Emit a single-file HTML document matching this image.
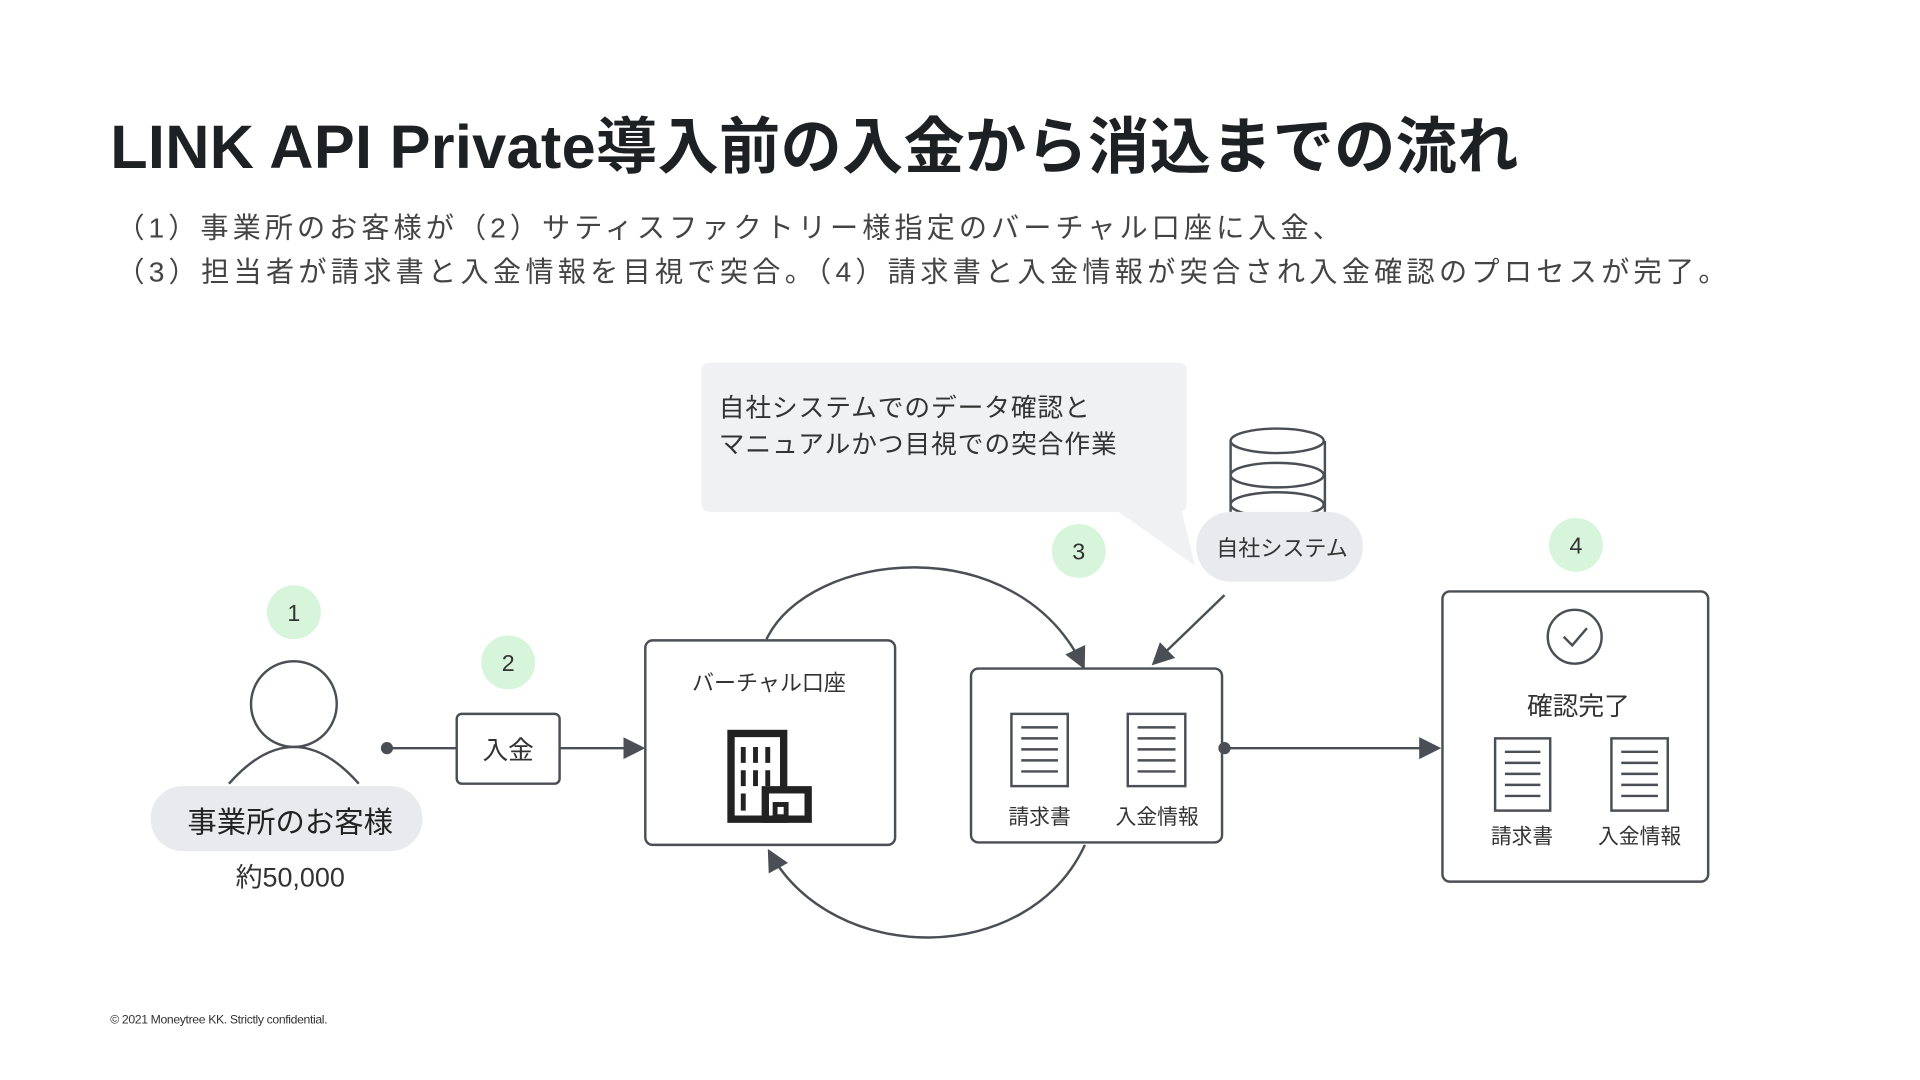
<!DOCTYPE html>
<html><head><meta charset="utf-8"><style>
html,body{margin:0;padding:0;background:#fff;}
svg{display:block;}
text{font-family:"Liberation Sans","Noto Sans CJK JP",sans-serif;}
</style></head><body>
<svg width="1920" height="1080" viewBox="0 0 1568 882" xmlns="http://www.w3.org/2000/svg">
<defs>
<marker id="ah2" markerWidth="18" markerHeight="18" refX="16" refY="9" orient="auto" markerUnits="userSpaceOnUse" viewBox="0 0 18 18">
<path d="M0,0 L18,9 L0,18 z" fill="#4a4f55"/></marker>
</defs>
<rect width="1568" height="882" fill="#fff"/>
<text x="90" y="137" font-size="50" font-weight="bold" fill="#1e2124" textLength="1150" lengthAdjust="spacing">LINK API Private導入前の入金から消込までの流れ</text>
<text x="95" y="194" font-size="23" fill="#444" textLength="1000" lengthAdjust="spacing">（1）事業所のお客様が（2）サティスファクトリー様指定のバーチャル口座に入金、</text>
<text x="95" y="230" font-size="23" fill="#444" textLength="1315" lengthAdjust="spacing">（3）担当者が請求書と入金情報を目視で突合。（4）請求書と入金情報が突合され入金確認のプロセスが完了。</text>

<!-- callout -->
<rect x="573" y="296" width="396" height="122" rx="6" fill="#f0f1f3"/>
<path d="M912,417 L965,417 L976,462 Z" fill="#f0f1f3"/>
<text x="587" y="340" font-size="21" fill="#333" textLength="303" lengthAdjust="spacing">自社システムでのデータ確認と</text>
<text x="587" y="370" font-size="21" fill="#333" textLength="325" lengthAdjust="spacing">マニュアルかつ目視での突合作業</text>

<!-- database -->
<g fill="#fff" stroke="#4a4f55" stroke-width="2">
<path d="M1005,360 L1005,418 M1082,360 L1082,418"/>
<ellipse cx="1043" cy="412" rx="38" ry="10"/>
<ellipse cx="1043" cy="388" rx="38" ry="10"/>
<ellipse cx="1043" cy="360" rx="38" ry="10"/>
</g>
<rect x="977" y="418" width="136" height="57" rx="28" fill="#e8eaed"/>
<text x="1047" y="454" font-size="18" fill="#333" text-anchor="middle">自社システム</text>

<!-- green numbers -->
<g fill="#d7f5db">
<circle cx="240" cy="500" r="22"/><circle cx="415" cy="541" r="22"/>
<circle cx="881" cy="450" r="22"/><circle cx="1287" cy="445" r="22"/></g>
<g font-size="19" fill="#333" text-anchor="middle">
<text x="240" y="507">1</text><text x="415" y="548">2</text>
<text x="881" y="457">3</text><text x="1287" y="452">4</text></g>

<!-- person -->
<circle cx="240" cy="575" r="35" fill="none" stroke="#4a4f55" stroke-width="2"/>
<path d="M187,640 Q240,580 293,640" fill="none" stroke="#4a4f55" stroke-width="2"/>
<rect x="123" y="642" width="222" height="53" rx="26" fill="#e8eaed"/>
<text x="237" y="680" font-size="24" fill="#222" text-anchor="middle">事業所のお客様</text>
<text x="237" y="724" font-size="22" fill="#333" text-anchor="middle">約50,000</text>

<!-- flow -->
<circle cx="316" cy="611" r="5" fill="#4a4f55"/>
<line x1="316" y1="611" x2="373" y2="611" stroke="#4a4f55" stroke-width="2"/>
<rect x="373" y="583" width="84" height="57" rx="4" fill="#fff" stroke="#4a4f55" stroke-width="2"/>
<text x="415" y="620" font-size="21" fill="#333" text-anchor="middle">入金</text>
<line x1="457" y1="611" x2="525" y2="611" stroke="#4a4f55" stroke-width="2" marker-end="url(#ah2)"/>

<rect x="527" y="523" width="204" height="167" rx="6" fill="#fff" stroke="#4a4f55" stroke-width="2"/>
<text x="628" y="564" font-size="18" fill="#333" text-anchor="middle">バーチャル口座</text>
<g fill="none" stroke="#222" stroke-width="6">
<rect x="597" y="599" width="43" height="70"/>
<rect x="625" y="645" width="35" height="24" fill="#fff"/>
<rect x="633" y="657" width="9" height="10" stroke-width="4"/>
</g>
<g stroke="#222" stroke-width="4">
<path d="M607,610 V623 M617,610 V623 M627,610 V623 M607,629 V642 M617,629 V642 M627,629 V642 M607,648 V662"/></g>

<!-- arcs -->
<path d="M626,522 C660,450 830,430 885,545" fill="none" stroke="#4a4f55" stroke-width="2" marker-end="url(#ah2)"/>
<path d="M886,690 C840,790 680,790 628,695" fill="none" stroke="#4a4f55" stroke-width="2" marker-end="url(#ah2)"/>
<line x1="1000" y1="486" x2="942" y2="542" stroke="#4a4f55" stroke-width="2" marker-end="url(#ah2)"/>

<rect x="793" y="546" width="205" height="142" rx="6" fill="#fff" stroke="#4a4f55" stroke-width="2"/>
<rect x="1178" y="483" width="217" height="237" rx="6" fill="#fff" stroke="#4a4f55" stroke-width="2"/>
<g fill="#fff" stroke="#4a4f55" stroke-width="2">
<rect x="826" y="583" width="46" height="59"/><rect x="921" y="583" width="47" height="59"/>
<rect x="1221" y="603" width="45" height="59"/><rect x="1316" y="603" width="46" height="59"/></g>
<g stroke="#4a4f55" stroke-width="2">
<path d="M834,594H864M834,603H864M834,612H864M834,621H864M834,630H864"/>
<path d="M929,594H960M929,603H960M929,612H960M929,621H960M929,630H960"/>
<path d="M1229,614H1258M1229,623H1258M1229,632H1258M1229,641H1258M1229,650H1258"/>
<path d="M1324,614H1354M1324,623H1354M1324,632H1354M1324,641H1354M1324,650H1354"/></g>
<g font-size="17" fill="#333" text-anchor="middle">
<text x="849" y="673">請求書</text><text x="945" y="673">入金情報</text>
<text x="1243" y="689">請求書</text><text x="1339" y="689">入金情報</text></g>

<circle cx="1000" cy="611" r="5" fill="#4a4f55"/>
<line x1="1000" y1="611" x2="1175" y2="611" stroke="#4a4f55" stroke-width="2" marker-end="url(#ah2)"/>

<circle cx="1286" cy="520" r="22" fill="none" stroke="#4a4f55" stroke-width="2"/>
<path d="M1277,520 L1284,527 L1296,513" fill="none" stroke="#4a4f55" stroke-width="2"/>
<text x="1289" y="584" font-size="21" fill="#333" text-anchor="middle">確認完了</text>

<text x="90" y="836" font-size="10" fill="#333" letter-spacing="-0.3">© 2021 Moneytree KK. Strictly confidential.</text>
</svg>
</body></html>
